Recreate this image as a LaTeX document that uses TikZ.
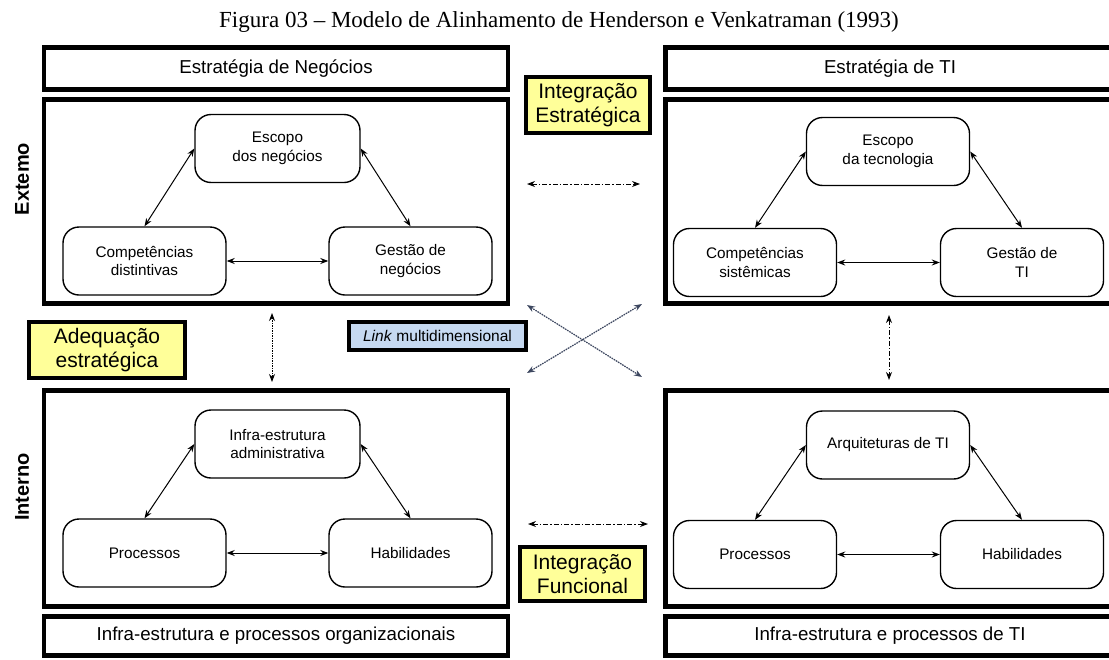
\documentclass[tikz,border=0pt]{standalone}
\usepackage{fontspec}
\setmainfont{Liberation Sans}
\newfontfamily\titlefont{Liberation Serif}
\usetikzlibrary{arrows.meta}
\definecolor{ylw}{RGB}{255,255,153}
\definecolor{lblue}{RGB}{198,217,241}
\definecolor{crossc}{RGB}{60,70,95}
\begin{document}
\begin{tikzpicture}[x=1pt,y=-1pt,
  frame/.style={draw=black, line width=4.5pt, inner sep=0pt, font=\fontsize{18.7}{22}\selectfont},
  innode/.style={draw=black, line width=1.4pt, rounded corners=16pt, minimum width=163pt, minimum height=68pt, inner sep=0pt, align=center, font=\fontsize{15.3}{18.5}\selectfont},
  ylabel/.style={draw=black, line width=4pt, fill=ylw, align=center, inner sep=0pt, font=\fontsize{21}{24}\selectfont},
  side/.style={rotate=90, font=\bfseries\fontsize{20}{24}\selectfont, inner sep=0pt},
  dbl/.style={{Stealth[length=8pt,width=6pt]}-{Stealth[length=8pt,width=6pt]}, line width=1pt},
  dashdot/.style={dash pattern=on 5pt off 2pt on 1.5pt off 2pt},
  dotline/.style={dash pattern=on 1.5pt off 1pt}
]
\useasboundingbox (0,0) rectangle (1109,659);
\begin{scope}
\clip (0,0) rectangle (1109,659);
\fill[white] (0,0) rectangle (1109,659);

% title
\node[anchor=base, font=\titlefont\fontsize{23}{26}\selectfont, inner sep=0pt] (title) at (559,27) {Figura 03 – Modelo de Alinhamento de Henderson e Venkatraman (1993)};

% left column frames
\node[frame, minimum width=464pt, minimum height=42pt] (lb1) at (276,68.5) {Estratégia de Negócios};
\node[frame, minimum width=464pt, minimum height=204pt] (lb2) at (276,201.5) {};
\node[frame, minimum width=464pt, minimum height=216pt] (lb3) at (276,498.5) {};
\node[frame, minimum width=464pt, minimum height=39pt] (lb4) at (276,636) {Infra-estrutura e processos organizacionais};

% right column frames
\node[frame, minimum width=449pt, minimum height=42pt] (rb1) at (890,68.5) {Estratégia de TI};
\node[frame, minimum width=449pt, minimum height=204pt] (rb2) at (890,201.5) {};
\node[frame, minimum width=449pt, minimum height=216pt] (rb3) at (890,498.5) {};
\node[frame, minimum width=449pt, minimum height=39pt] (rb4) at (890,636) {Infra-estrutura e processos de TI};

% side labels
\node[side] (ext) at (22,179) {Extemo};
\node[side] (int) at (22,487) {Interno};

% left top triangle
\node[innode, minimum width=165pt] (esc1) at (277.5,148.5) {Escopo\\dos negócios};
\node[innode] (comp1) at (144.5,261) {Competências\\distintivas};
\node[innode] (gest1) at (410.5,261) {Gestão de\\negócios};
\draw[dbl] (esc1.west) -- (comp1.north);
\draw[dbl] (esc1.east) -- (gest1.north);
\draw[dbl] (comp1.east) -- (gest1.west);

% right top triangle
\node[innode] (esc2) at (888,151.5) {Escopo\\da tecnologia};
\node[innode] (comp2) at (755,262.5) {Competências\\sistêmicas};
\node[innode] (gest2) at (1022,262.5) {Gestão de\\TI};
\draw[dbl] (esc2.west) -- (comp2.north);
\draw[dbl] (esc2.east) -- (gest2.north);
\draw[dbl] (comp2.east) -- (gest2.west);

% left bottom triangle
\node[innode, minimum width=165pt] (infra) at (277.5,444) {Infra-estrutura\\administrativa};
\node[innode] (proc1) at (144.5,553) {Processos};
\node[innode] (hab1) at (410.5,553) {Habilidades};
\draw[dbl] (infra.west) -- (proc1.north);
\draw[dbl] (infra.east) -- (hab1.north);
\draw[dbl] (proc1.east) -- (hab1.west);

% right bottom triangle
\node[innode] (arq) at (888,445) {Arquiteturas de TI};
\node[innode] (proc2) at (755,554.5) {Processos};
\node[innode] (hab2) at (1022,554.5) {Habilidades};
\draw[dbl] (arq.west) -- (proc2.north);
\draw[dbl] (arq.east) -- (hab2.north);
\draw[dbl] (proc2.east) -- (hab2.west);

% labels
\node[ylabel, minimum width=124pt, minimum height=56pt] (ie) at (588,105) {Integração\\Estratégica};
\node[ylabel, minimum width=125pt, minimum height=54pt] (if) at (582.5,574) {Integração\\Funcional};
\node[ylabel, minimum width=156pt, minimum height=56pt] (ae) at (107,350) {Adequação\\estratégica};
\node[draw=black, line width=4pt, fill=lblue, minimum width=177pt, minimum height=28pt, inner sep=0pt, font=\fontsize{15.5}{18}\selectfont] (link) at (437.5,336) {\textit{Link} multidimensional};

% connector end points
\coordinate (ie1) at (527,184);
\coordinate (ie2) at (640,184);
\coordinate (if1) at (528,524);
\coordinate (if2) at (648,524);
\coordinate (av1) at (272,313);
\coordinate (av2) at (272,382);
\coordinate (bv1) at (889,315);
\coordinate (bv2) at (889,380);
\coordinate (xa1) at (527,305);
\coordinate (xa2) at (642,377);
\coordinate (xb1) at (642,304);
\coordinate (xb2) at (527,373);

\draw[dbl, dashdot] (ie1) -- (ie2);
\draw[dbl, dashdot] (if1) -- (if2);
\draw[dbl, dotline] (av1) -- (av2);
\draw[dbl, dashdot] (bv1) -- (bv2);
\draw[dbl, dotline, draw=crossc, fill=crossc, line width=1.2pt] (xa1) -- (xa2);
\draw[dbl, dotline, draw=crossc, fill=crossc, line width=1.2pt] (xb1) -- (xb2);
\end{scope}
\end{tikzpicture}
\end{document}
